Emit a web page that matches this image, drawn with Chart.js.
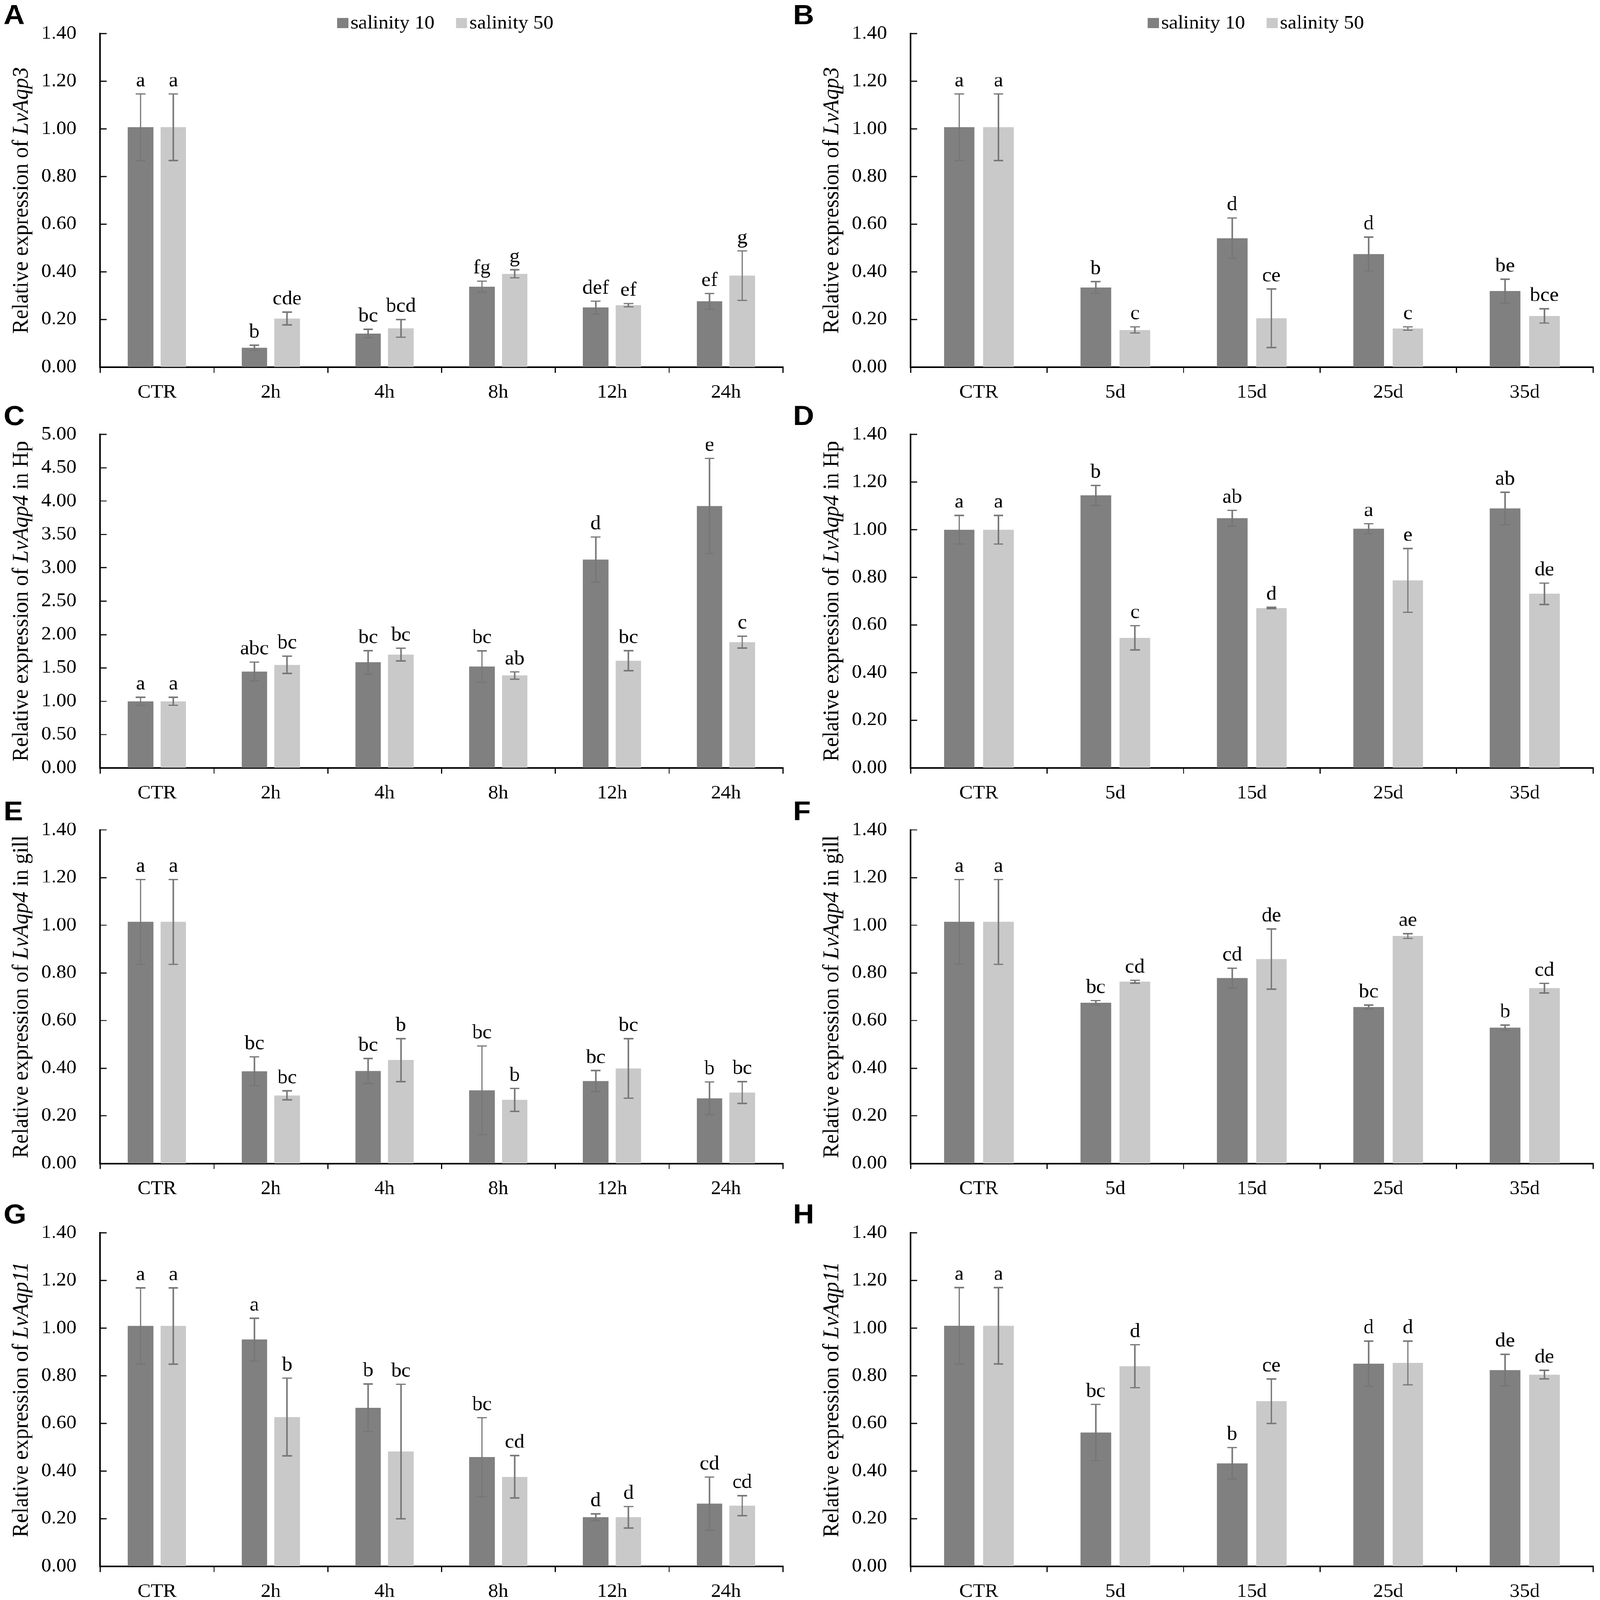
<!DOCTYPE html>
<html>
<head>
<meta charset="utf-8">
<script src="https://cdn.jsdelivr.net/npm/chart.js@4.4.0/dist/chart.umd.min.js"></script>
<style>
  html, body { margin: 0; padding: 0; background: #fff; overflow: hidden; }
  #fig { position: relative; width: 4317px; height: 4583px; background: #fff; transform-origin: 0 0; }
  #fig canvas { position: absolute; }
</style>
</head>
<body>
<div id="fig"></div>
<script>
const hourLabels = ["CTR", "2h", "4h", "8h", "12h", "24h"];
const dayLabels = ["CTR", "5d", "15d", "25d", "35d"];
const seriesNames = ["salinity 10", "salinity 50"];

// A - LvAqp3, hours
const aS10 = [1.007, 0.081, 0.141, 0.338, 0.250, 0.276];
const aS10Err = [0.14, 0.011, 0.018, 0.023, 0.027, 0.033];
const aS50 = [1.007, 0.204, 0.163, 0.392, 0.260, 0.384];
const aS50Err = [0.14, 0.027, 0.037, 0.017, 0.007, 0.104];
const aS10Sig = ["a", "b", "bc", "fg", "def", "ef"];
const aS50Sig = ["a", "cde", "bcd", "g", "ef", "g"];

// B - LvAqp3, days
const bS10 = [1.007, 0.334, 0.541, 0.475, 0.319];
const bS10Err = [0.14, 0.025, 0.085, 0.071, 0.050];
const bS50 = [1.007, 0.156, 0.205, 0.162, 0.215];
const bS50Err = [0.14, 0.013, 0.123, 0.007, 0.030];
const bS10Sig = ["a", "b", "d", "d", "be"];
const bS50Sig = ["a", "c", "ce", "c", "bce"];

// C - LvAqp4 in Hp, hours
const cS10 = [1.0, 1.447, 1.582, 1.520, 3.125, 3.927];
const cS10Err = [0.06, 0.14, 0.176, 0.235, 0.337, 0.714];
const cS50 = [1.0, 1.546, 1.700, 1.385, 1.608, 1.886];
const cS50Err = [0.06, 0.13, 0.095, 0.055, 0.150, 0.088];
const cS10Sig = ["a", "abc", "bc", "bc", "d", "e"];
const cS50Sig = ["a", "bc", "bc", "ab", "bc", "c"];

// D - LvAqp4 in Hp, days
const dS10 = [1.0, 1.144, 1.048, 1.004, 1.089];
const dS10Err = [0.06, 0.042, 0.033, 0.021, 0.068];
const dS50 = [1.0, 0.546, 0.671, 0.787, 0.731];
const dS50Err = [0.06, 0.051, 0.003, 0.134, 0.045];
const dS10Sig = ["a", "b", "ab", "a", "ab"];
const dS50Sig = ["a", "c", "d", "e", "de"];

// E - LvAqp4 in gill, hours
const eS10 = [1.014, 0.387, 0.388, 0.307, 0.346, 0.274];
const eS10Err = [0.178, 0.061, 0.053, 0.186, 0.044, 0.068];
const eS50 = [1.014, 0.286, 0.434, 0.267, 0.399, 0.298];
const eS50Err = [0.178, 0.019, 0.090, 0.048, 0.125, 0.046];
const eS10Sig = ["a", "bc", "bc", "bc", "bc", "b"];
const eS50Sig = ["a", "bc", "b", "b", "bc", "bc"];

// F - LvAqp4 in gill, days
const fS10 = [1.014, 0.675, 0.778, 0.657, 0.570];
const fS10Err = [0.178, 0.009, 0.042, 0.008, 0.011];
const fS50 = [1.014, 0.763, 0.858, 0.955, 0.736];
const fS50Err = [0.178, 0.006, 0.126, 0.010, 0.020];
const fS10Sig = ["a", "bc", "cd", "bc", "b"];
const fS50Sig = ["a", "cd", "de", "ae", "cd"];

// G - LvAqp11, hours
const gS10 = [1.009, 0.952, 0.666, 0.458, 0.206, 0.263];
const gS10Err = [0.16, 0.09, 0.10, 0.166, 0.014, 0.112];
const gS50 = [1.009, 0.627, 0.482, 0.376, 0.206, 0.255];
const gS50Err = [0.16, 0.163, 0.282, 0.089, 0.045, 0.042];
const gS10Sig = ["a", "a", "b", "bc", "d", "cd"];
const gS50Sig = ["a", "b", "bc", "cd", "d", "cd"];

// H - LvAqp11, days
const hS10 = [1.01, 0.562, 0.433, 0.851, 0.824];
const hS10Err = [0.16, 0.118, 0.066, 0.095, 0.066];
const hS50 = [1.01, 0.840, 0.693, 0.854, 0.805];
const hS50Err = [0.16, 0.090, 0.093, 0.092, 0.018];
const hS10Sig = ["a", "bc", "b", "d", "de"];
const hS50Sig = ["a", "d", "ce", "d", "de"];

const SERIF = "'Liberation Serif', 'Times New Roman', serif";
const DARK = "#808080";
const LIGHT = "#c9c9c9";

const FIG_W = 4317, FIG_H = 4583;
const rowTops = [0, 1148, 2281, 3435];
const panelH = 1148;
const plotBottom = 1052;

const panels = [
  { tag: "A", col: 0, row: 0, labels: hourLabels, s10: aS10, s10e: aS10Err, s50: aS50, s50e: aS50Err, sig10: aS10Sig, sig50: aS50Sig, gene: "LvAqp3", tail: "", max: 1.4, step: 0.2, legend: true },
  { tag: "B", col: 1, row: 0, labels: dayLabels, s10: bS10, s10e: bS10Err, s50: bS50, s50e: bS50Err, sig10: bS10Sig, sig50: bS50Sig, gene: "LvAqp3", tail: "", max: 1.4, step: 0.2, legend: true },
  { tag: "C", col: 0, row: 1, labels: hourLabels, s10: cS10, s10e: cS10Err, s50: cS50, s50e: cS50Err, sig10: cS10Sig, sig50: cS50Sig, gene: "LvAqp4", tail: " in Hp", max: 5, step: 0.5 },
  { tag: "D", col: 1, row: 1, labels: dayLabels, s10: dS10, s10e: dS10Err, s50: dS50, s50e: dS50Err, sig10: dS10Sig, sig50: dS50Sig, gene: "LvAqp4", tail: " in Hp", max: 1.4, step: 0.2 },
  { tag: "E", col: 0, row: 2, labels: hourLabels, s10: eS10, s10e: eS10Err, s50: eS50, s50e: eS50Err, sig10: eS10Sig, sig50: eS50Sig, gene: "LvAqp4", tail: " in gill", max: 1.4, step: 0.2 },
  { tag: "F", col: 1, row: 2, labels: dayLabels, s10: fS10, s10e: fS10Err, s50: fS50, s50e: fS50Err, sig10: fS10Sig, sig50: fS50Sig, gene: "LvAqp4", tail: " in gill", max: 1.4, step: 0.2 },
  { tag: "G", col: 0, row: 3, labels: hourLabels, s10: gS10, s10e: gS10Err, s50: gS50, s50e: gS50Err, sig10: gS10Sig, sig50: gS50Sig, gene: "LvAqp11", tail: "", max: 1.4, step: 0.2 },
  { tag: "H", col: 1, row: 3, labels: dayLabels, s10: hS10, s10e: hS10Err, s50: hS50, s50e: hS50Err, sig10: hS10Sig, sig50: hS50Sig, gene: "LvAqp11", tail: "", max: 1.4, step: 0.2 }
];

// left column canvas 0..2130, right column 2130..4317
const colX = [0, 2130];
const colW = [2130, 2187];
const axisX = [270, 327];

const decorPlugin = {
  id: "decor",
  afterDatasetsDraw(chart) {
    const ctx = chart.ctx;
    const y = chart.scales.y;
    ctx.save();
    // error bars and significance letters
    chart.data.datasets.forEach((ds, di) => {
      const meta = chart.getDatasetMeta(di);
      meta.data.forEach((bar, i) => {
        const v = ds.data[i], e = ds.errors[i];
        const yt = y.getPixelForValue(v + e);
        const yb = y.getPixelForValue(v - e);
        ctx.strokeStyle = "#777777";
        ctx.lineWidth = 4;
        ctx.beginPath();
        ctx.moveTo(bar.x, yt); ctx.lineTo(bar.x, yb);
        ctx.moveTo(bar.x - 13, yt); ctx.lineTo(bar.x + 13, yt);
        ctx.moveTo(bar.x - 13, yb); ctx.lineTo(bar.x + 13, yb);
        ctx.stroke();
        ctx.fillStyle = "#000";
        ctx.font = "56px " + SERIF;
        ctx.textAlign = "center";
        ctx.textBaseline = "alphabetic";
        ctx.fillText(ds.letters[i], bar.x, yt - 22);
      });
    });
    ctx.restore();
  },
  afterDraw(chart, args, opts) {
    const ctx = chart.ctx;
    const area = chart.chartArea;
    const y = chart.scales.y;
    ctx.save();
    // inward y tick marks
    ctx.strokeStyle = "#000";
    ctx.lineWidth = 3;
    y.ticks.forEach(t => {
      const py = Math.round(y.getPixelForValue(t.value));
      ctx.beginPath();
      ctx.moveTo(area.left, py);
      ctx.lineTo(area.left + 18, py);
      ctx.stroke();
    });
    // y title with italic gene name
    const parts = [
      { t: "Relative expression of ", f: "62px " + SERIF },
      { t: opts.gene, f: "italic 62px " + SERIF },
      { t: opts.tail, f: "62px " + SERIF }
    ];
    let total = 0;
    parts.forEach(p => { ctx.font = p.f; p.w = ctx.measureText(p.t).width; total += p.w; });
    ctx.translate(area.left - 195, (area.top + area.bottom) / 2);
    ctx.rotate(-Math.PI / 2);
    ctx.fillStyle = "#000";
    ctx.textBaseline = "alphabetic";
    ctx.textAlign = "left";
    let x = -total / 2;
    parts.forEach(p => { ctx.font = p.f; ctx.fillText(p.t, x, 0); x += p.w; });
    ctx.setTransform(1, 0, 0, 1, 0, 0);
    // panel tag
    ctx.font = "bold 78px 'Liberation Sans', Arial, sans-serif";
    ctx.textAlign = "left";
    ctx.fillText(opts.tag, 10, 69);
    // legend inside top of plot
    if (opts.legend) {
      let lx = area.left + 640;
      ctx.font = "54px " + SERIF;
      ctx.textBaseline = "middle";
      chart.data.datasets.forEach(ds => {
        ctx.fillStyle = ds.backgroundColor;
        ctx.fillRect(lx, 51, 30, 30);
        ctx.fillStyle = "#000";
        ctx.fillText(ds.label, lx + 36, 68);
        lx += 36 + ctx.measureText(ds.label).width + 58;
      });
    }
    ctx.restore();
  }
};

const fig = document.getElementById("fig");
// the browser viewport may be smaller than the figure: fit the figure into it
const sx = Math.min(1, window.innerWidth / FIG_W);
const sy = Math.min(1, window.innerHeight / FIG_H);
fig.style.transform = "scale(" + sx + "," + sy + ")";

panels.forEach(p => {
  const cv = document.createElement("canvas");
  cv.width = colW[p.col];
  cv.height = panelH;
  cv.style.left = colX[p.col] + "px";
  cv.style.top = rowTops[p.row] + "px";
  fig.appendChild(cv);

  new Chart(cv, {
    type: "bar",
    plugins: [decorPlugin],
    data: {
      labels: p.labels,
      datasets: [
        { label: seriesNames[0], data: p.s10, errors: p.s10e, letters: p.sig10, backgroundColor: DARK },
        { label: seriesNames[1], data: p.s50, errors: p.s50e, letters: p.sig50, backgroundColor: LIGHT }
      ]
    },
    options: {
      responsive: false,
      devicePixelRatio: 1,
      animation: false,
      categoryPercentage: 0.575,
      barPercentage: 0.78,
      layout: { padding: { top: 49, right: colW[p.col] - (p.col === 0 ? 2112 : 4298 - 2130), bottom: 0, left: 0 } },
      plugins: {
        legend: { display: false },
        tooltip: { enabled: false },
        decor: { gene: p.gene, tail: p.tail, tag: p.tag, legend: !!p.legend }
      },
      scales: {
        x: {
          grid: { offset: true, drawOnChartArea: false, drawTicks: true, tickLength: 16, color: "#000", lineWidth: 3 },
          border: { display: true, color: "#000", width: 4 },
          ticks: { color: "#000", font: { family: SERIF, size: 54 }, padding: 25, maxRotation: 0 },
          afterFit: s => { s.height = panelH - plotBottom; }
        },
        y: {
          min: 0,
          max: p.max,
          grid: { display: false, drawTicks: false },
          border: { display: true, color: "#000", width: 4 },
          ticks: {
            stepSize: p.step,
            color: "#000",
            font: { family: SERIF, size: 54 },
            padding: 64,
            callback: v => v.toFixed(2)
          },
          afterFit: s => { s.width = axisX[p.col]; }
        }
      }
    }
  });
});
</script>
</body>
</html>
